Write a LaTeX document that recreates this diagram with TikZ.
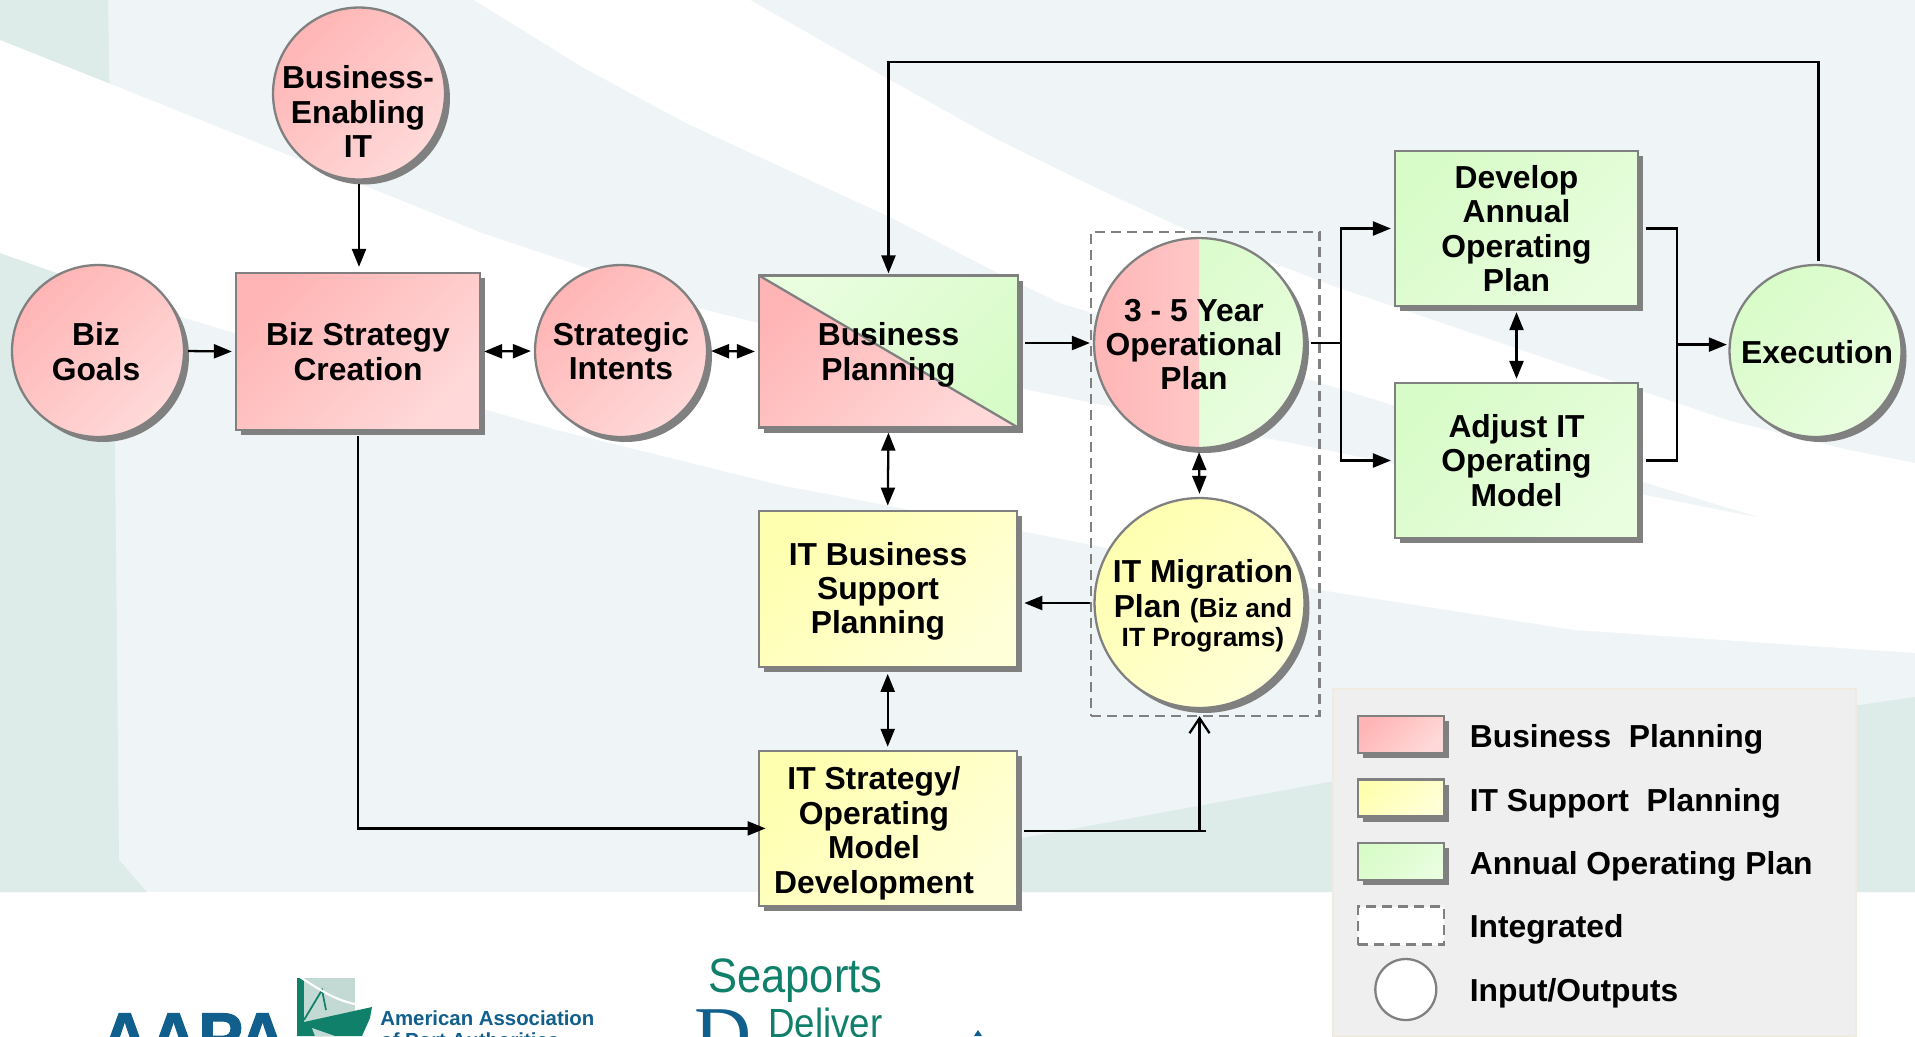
\documentclass[tikz,border=0pt]{standalone}
\usepackage{fontspec}
\setmainfont{Liberation Sans}
\newfontfamily\logofont[FakeStretch=.9]{Liberation Sans}
\newfontfamily\logoserif{Liberation Serif}
\newfontfamily\aapafont[BoldFeatures={FakeBold=1.5}]{Liberation Sans}
\usetikzlibrary{arrows.meta,shadows,calc}
\definecolor{paleBg}{HTML}{EFF5F6}
\definecolor{tealBg}{HTML}{DDEBE9}
\definecolor{edgeGray}{HTML}{808080}
\definecolor{pinkA}{HTML}{FFB5B5}
\definecolor{pinkB}{HTML}{FFD9D9}
\definecolor{yelA}{HTML}{FFFFB0}
\definecolor{yelB}{HTML}{FFFFD8}
\definecolor{grnA}{HTML}{D8FCC8}
\definecolor{grnB}{HTML}{E9FDDF}
\definecolor{lgPanel}{HTML}{EFEFEF}
\definecolor{lgEdge}{HTML}{EFEBE0}
\definecolor{aapaBlue}{HTML}{115F8D}
\definecolor{logoGreen}{HTML}{10806A}
\definecolor{logoPale}{HTML}{C2DAD3}
\newcommand{\subfont}{\fontsize{15}{17}\selectfont}
\tikzset{
  shape base/.style={draw=edgeGray, line width=1.3pt, inner sep=0pt, align=center,
    drop shadow={shadow xshift=.1cm, shadow yshift=-.1cm, fill=edgeGray, opacity=1}},
  biz fill/.style={top color=pinkA, bottom color=pinkB, shading angle=45},
  it fill/.style={top color=yelA, bottom color=yelB, shading angle=45},
  aop fill/.style={top color=grnA, bottom color=grnB, shading angle=45},
  disc/.style={shape base, circle, minimum size=3.44cm},
  bigdisc/.style={shape base, circle, minimum size=4.2cm},
  box/.style={shape base, rectangle},
  lbl/.style={align=center, inner sep=0pt},
  conn/.style={line width=1.3pt, shorten <=.06cm, shorten >=.06cm},
  dashbox/.style={draw=edgeGray, line width=1.2pt, dash pattern=on .2cm off .12cm},
  swatch/.style={box, minimum width=1.72cm, minimum height=.74cm},
  lgtext/.style={anchor=base west, inner sep=0pt}
}
\begin{document}
\begin{tikzpicture}[x=.02cm, y=-.02cm, line join=miter,
    font=\fontsize{18.1}{19.6}\selectfont\bfseries,
    >={Triangle[length=.36cm, width=.28cm]}]
  \useasboundingbox (0,0) rectangle (1915,1036);
  \clip (0,0) rectangle (1915,1036);
  \fill[white] (0,0) rectangle (1915,1036);
  \fill[paleBg] (0,0) rectangle (1915,892);
  \fill[tealBg] (0,0)--(108,0)--(115,450)--(119,860)--(147,892)--(0,892)--cycle;
  \fill[tealBg] (900,892)--(1023,838)--(1340,780)--(1915,697)--(1915,892)--cycle;
  \fill[white] (0,40)--(108,83)--(380,192)--(482,233)--(584,267)--(706,310)--(1028,390)--(1400,465)--(1645,495)--(1761,518)
    --(1060,303)--(992,270)--(890,217)--(788,170)--(686,123)--(584,68)--(474,0)--(750,0)--(890,80)--(992,137)--(1094,187)--(1180,227)--(1333,286)--(1730,421)--(1849,450)--(1915,463)
    --(1915,653)--(1575,630)--(1320,590)--(1016,530)--(780,485)--(557,430)--(487,410)--(182,317)--(0,253)--cycle;

  \node[dashbox, minimum width=4.57cm, minimum height=9.69cm] (integ) at (1205.25,473.75) {};

  \node[disc, biz fill] (bizgoals) at (98,351) {};
  \node[disc, biz fill] (enabling) at (359,93.5) {};
  \node[box, biz fill, minimum width=4.88cm, minimum height=3.14cm] (bizstrat) at (358,351.5) {Biz Strategy\\Creation};
  \node[disc, biz fill] (intents) at (621,351) {Strategic\\Intents};
  \node[box, minimum width=5.18cm, minimum height=3.04cm, bottom color=grnA, top color=grnB, shading angle=45,
    path picture={
      \shade[biz fill] (path picture bounding box.north west)--(path picture bounding box.south east)--(path picture bounding box.south west)--cycle;
      \draw[edgeGray, line width=1.3pt] (path picture bounding box.north west)--(path picture bounding box.south east);
    }] (bizplan) at (888.5,351.5) {Business\\\smash{Planning}};
  \node[box, it fill, minimum width=5.16cm, minimum height=3.12cm] (itbiz) at (887.7,588.7) {};
  \node[box, it fill, minimum width=5.16cm, minimum height=3.1cm] (itstrat) at (887.7,828.4) {};
  \node[bigdisc, aop fill,
    path picture={
      \shade[left color=pinkA, right color=pinkB] (path picture bounding box.north west) rectangle (path picture bounding box.south);
    }] (plan35) at (1199,343) {};
  \node[bigdisc, it fill] (migr) at (1199.5,603) {};
  \node[box, aop fill, minimum width=4.86cm, minimum height=3.1cm] (develop) at (1516.5,228.5) {Develop\\Annual\\Operating\\Plan};
  \node[box, aop fill, minimum width=4.86cm, minimum height=3.1cm] (adjust) at (1516.5,460.5) {Adjust IT\\Operating\\Model};
  \node[disc, aop fill] (exec) at (1815.5,351) {};

  \node[lbl] (bizgoalstext) at (96,351.5) {Biz\\Goals};
  \node[lbl] (enablingtext) at (358,111.5) {Business-\\Enabling\\IT};
  \node[lbl] (itbiztext) at (878,588) {IT Business\\Support\\\smash{Planning}};
  \node[lbl] (itstrattext) at (874,830) {IT Strategy/\\Operating\\Model\\\smash{Development}};
  \node[lbl] (plan35text) at (1194,344.5) {3 - 5 Year\\Operational\\Plan};
  \node[lbl] (migrtext) at (1203,606) {IT Migration\\Plan {\subfont (Biz and}\\[-2.6pt]{\subfont IT Programs)}};
  \node[lbl] (exectext) at (1817,352) {Execution};

  \coordinate (loopR) at (1818.5,62);
  \coordinate (loopL) at (888.5,62);
  \coordinate (elbow) at (bizstrat.south |- itstrat.west);
  \coordinate (outEnd) at (1205.6,830.7);
  \coordinate (outUp) at (migr.south |- outEnd);
  \coordinate (splitA) at (1341,343);
  \coordinate (mergeA) at (1677,344.6);

  \draw[conn, ->, shorten >=.1cm] (enabling.south) -- (enabling.south |- bizstrat.north);
  \draw[conn, ->] (bizgoals.east) -- (bizstrat.west);
  \draw[conn, <->] (bizstrat.east) -- (intents.west);
  \draw[conn, <->] (intents.east) -- (bizplan.west);
  \draw[conn, ->, shorten <=.12cm] (bizplan.east |- plan35.west) -- (plan35.west);
  \draw[conn, ->, shorten >=.02cm] (exec.north -| loopR) -- (loopR) -- (loopL) -- (bizplan.north);
  \draw[conn, <->, shorten <=.08cm, shorten >=.08cm] (bizplan.south) -- (itbiz.north);
  \draw[conn, <->, shorten <=.12cm] (itbiz.south) -- (itstrat.north);
  \draw[conn, ->, shorten <=.1cm, shorten >=-.16cm] (bizstrat.south) -- (elbow) -- (itstrat.west);
  \draw[conn, ->, shorten >=.13cm] (migr.west) -- (migr.west -| itbiz.east);
  \draw[conn, <->] (plan35.south) -- (migr.north);
  \draw[conn, shorten <=.13cm, shorten >=0pt] (itstrat.east |- outEnd) -- (outEnd);
  \draw[line width=1.3pt, -{Straight Barb[length=.3cm, width=.4cm]}, shorten >=.14cm] (outUp) -- (migr.south);
  \draw[conn, shorten <=.12cm, shorten >=0pt] (plan35.east) -- (splitA);
  \draw[conn, ->, shorten <=0pt] (splitA) |- (develop.west);
  \draw[conn, ->, shorten <=0pt] (splitA) |- (adjust.west);
  \draw[conn, <->, shorten <=.1cm] (develop.south) -- (adjust.north);
  \draw[conn, shorten <=.13cm, shorten >=0pt] (develop.east) -| (mergeA);
  \draw[conn, shorten <=.13cm, shorten >=0pt] (adjust.east) -| (mergeA);
  \draw[conn, ->, shorten <=0pt, shorten >=.03cm] (mergeA) -- (mergeA -| exec.west);

  \node[draw=lgEdge, line width=1pt, fill=lgPanel, minimum width=10.46cm, minimum height=6.94cm] (legend) at (1594.5,862.5) {};
  \node[swatch, biz fill] (lgbiz) at (1400.8,734.5) {};
  \node[swatch, it fill] (lgit) at (1400.8,798) {};
  \node[swatch, aop fill] (lgaop) at (1400.8,861.5) {};
  \node[dashbox, fill=white, minimum width=1.72cm, minimum height=.76cm] (lgint) at (1400.8,925.5) {};
  \node[draw=edgeGray, line width=1.3pt, fill=white, circle, minimum size=1.22cm] (lgio) at (1405.8,989.5) {};
  \foreach \nm/\yy/\tx in {tbiz/747.7/{Business\ \ Planning}, tit/811/{IT Support\ \ Planning}, taop/874/{Annual Operating Plan}, tint/937.7/{Integrated}, tio/1001.7/{Input/Outputs}}{
    \node[lgtext] (\nm) at (1469.5,\yy) {\tx};
  }

  \node[lgtext, text=aapaBlue, font=\fontsize{38.5}{44}\aapafont\bfseries] (aapa) at (100,1060) {AAPA};
  \fill[logoPale] (297,978) rectangle (355,1036);
  \fill[logoGreen] (297,978) rectangle (304,1036);
  \draw[logoGreen, line width=1pt] (304,1020)--(322,990)--(326,1010);
  \draw[white, line width=1.2pt] (297,975) .. controls (320,990) and (335,1000) .. (355,1004);
  \fill[logoGreen] (304,1022)--(372,1007)--(370,1018)--(362,1036)--(297,1036)--cycle;
  \fill[logoPale] (312,1028)--(335,1036)--(315,1036)--cycle;
  \node[lgtext, text=aapaBlue, font=\fontsize{11.6}{13}\selectfont\bfseries] (aapaname) at (380,1025) {American Association};
  \node[lgtext, text=aapaBlue, font=\fontsize{11.6}{13}\selectfont\bfseries] (aapaname2) at (380,1047) {of Port Authorities};
  \node[lgtext, text=logoGreen, font=\fontsize{27.5}{30}\logofont\mdseries] (seaports) at (708,992) {Seaports};
  \node[lgtext, text=logoGreen, font=\fontsize{23.2}{26}\logofont\mdseries] (deliver) at (768,1037) {Deliver};
  \node[lgtext, text=aapaBlue, font=\fontsize{45}{50}\logoserif\mdseries] (bigD) at (694,1061) {D};
  \fill[aapaBlue] (974,1036)--(978,1030)--(982,1036)--cycle;
\end{tikzpicture}
\end{document}
